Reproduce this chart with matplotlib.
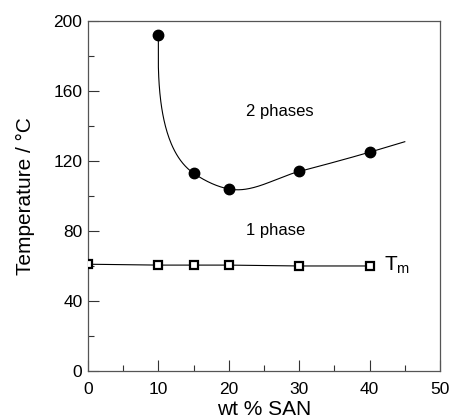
import numpy as np
import matplotlib
matplotlib.use("Agg")
import matplotlib.pyplot as plt
from matplotlib.ticker import MultipleLocator

plt.rcParams['font.family'] = ['Liberation Sans', 'DejaVu Sans']

# Data
san_wt = [10, 15, 20, 30, 40]
t_phase = [192, 113, 104, 114, 125]
curve_end_x = 45
curve_end_T = 131

tm_wt = [0, 10, 15, 20, 30, 40]
tm_T = [61, 60.5, 60.5, 60.5, 60, 60]

fig = plt.figure(figsize=(4.51, 4.19), dpi=100)
ax = fig.add_axes([0.195, 0.1146, 0.7806, 0.8354])
ax.set_xlim(0, 50)
ax.set_ylim(0, 200)


def hermite_curve(P, start_dir, start_scale=1.0):
    """Smooth parametric curve through P (display coords), Bessel tangents."""
    d = np.diff(P, axis=0)
    h = np.hypot(d[:, 0], d[:, 1])
    u = d / h[:, None]
    n = len(P)
    m = np.zeros_like(P)
    m[0] = np.asarray(start_dir) / np.hypot(*start_dir)
    for i in range(1, n - 1):
        v = (h[i] * u[i - 1] + h[i - 1] * u[i]) / (h[i - 1] + h[i])
        m[i] = v / np.hypot(*v)
    m[-1] = u[-1]
    out = []
    s = np.linspace(0, 1, 80)[:, None]
    for i in range(n - 1):
        h00 = 2 * s**3 - 3 * s**2 + 1
        h10 = s**3 - 2 * s**2 + s
        h01 = -2 * s**3 + 3 * s**2
        h11 = s**3 - s**2
        k0 = start_scale if i == 0 else 1.0
        out.append(h00 * P[i] + h10 * h[i] * k0 * m[i] + h01 * P[i + 1] + h11 * h[i] * m[i + 1])
    return np.vstack(out)


cx = np.array(san_wt + [curve_end_x], float)
cy = np.array(t_phase + [curve_end_T], float)
pts = ax.transData.transform(np.column_stack([cx, cy]))
curve_disp = hermite_curve(pts, (0.0, -1.0), start_scale=0.6)
data_curve = ax.transData.inverted().transform(curve_disp)
ax.plot(data_curve[:, 0], data_curve[:, 1], color='black', lw=0.8, zorder=2)
ax.plot(san_wt, t_phase, 'o', color='black', ms=7.5, zorder=3)

ax.plot(tm_wt, tm_T, '-', color='black', lw=0.8, zorder=2)
ax.plot(tm_wt, tm_T, 's', mfc='white', mec='black', ms=5.5, mew=1.6, zorder=3)

ax.text(27.3, 148.5, '2 phases', fontsize=12, ha='center', va='center')
ax.text(26.6, 80.5, '1 phase', fontsize=12, ha='center', va='center')
ax.text(42.1, 60.5, r'T$_{\mathregular{m}}$', fontsize=15, ha='left', va='center')

ax.xaxis.set_major_locator(MultipleLocator(10))
ax.xaxis.set_minor_locator(MultipleLocator(5))
ax.yaxis.set_major_locator(MultipleLocator(40))
ax.yaxis.set_minor_locator(MultipleLocator(20))
ax.tick_params(which='both', direction='in', top=False, right=False, labelsize=12.5, width=0.8, color='#333333')
ax.tick_params(which='major', length=8)
ax.tick_params(which='minor', length=4.5)
ax.tick_params(axis='x', pad=8)
ax.tick_params(axis='y', pad=4)
for s in ax.spines.values():
    s.set_linewidth(0.9)
    s.set_color('#555555')

ax.set_xlabel('wt % SAN', fontsize=15, labelpad=2)
ax.set_ylabel('Temperature / °C', fontsize=15, labelpad=13)

fig.savefig('out.png', dpi=100)
